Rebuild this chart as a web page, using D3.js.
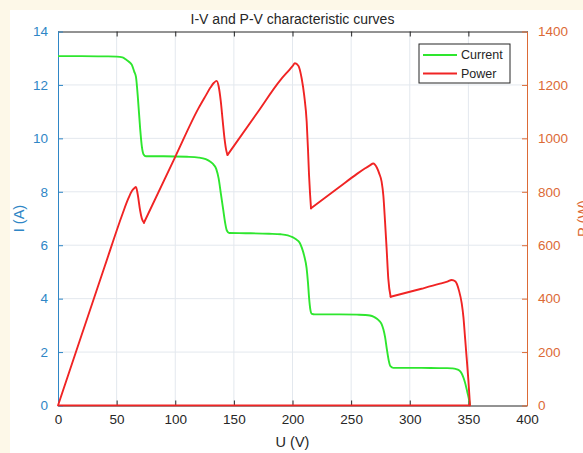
<!DOCTYPE html>
<html>
<head>
<meta charset="utf-8">
<script src="https://cdn.jsdelivr.net/npm/d3@7"></script>
<style>
    body { margin: 0; background: #fdf8e8; }
    svg text { font-family: "Liberation Sans", Arial, sans-serif; }
</style>
</head>
<body>
<script>
// values
var currentU = [0, 20, 40, 50, 55, 58, 61, 63, 65, 66.5, 68, 70, 71.5, 73, 75,
                90, 110, 120, 126, 130, 133, 135, 137, 139, 141, 142.5, 144, 146,
                160, 180, 190, 196, 200, 203, 206, 208, 210, 212, 213.2, 214.2, 215.2, 216.5, 219,
                240, 255, 262, 266, 269, 272, 274, 276, 277.5, 279, 280.5, 282, 283.5, 286,
                310, 325, 332, 336, 339, 342, 344.3, 346, 347.5, 349, 350.3, 351.4];
var currentI = [13.08, 13.08, 13.07, 13.06, 13.03, 12.95, 12.85, 12.75, 12.5, 12.3, 11.6, 10.4, 9.7, 9.4, 9.33,
                9.33, 9.31, 9.28, 9.22, 9.12, 9.0, 8.85, 8.5, 7.9, 7.3, 6.85, 6.55, 6.46,
                6.45, 6.43, 6.41, 6.37, 6.3, 6.22, 6.1, 5.9, 5.6, 5.15, 4.6, 4.0, 3.6, 3.43, 3.41,
                3.41, 3.40, 3.39, 3.37, 3.33, 3.25, 3.17, 3.05, 2.85, 2.55, 2.1, 1.7, 1.47, 1.41,
                1.41, 1.40, 1.40, 1.39, 1.37, 1.32, 1.2, 1.02, 0.8, 0.52, 0.28, 0];

var powerU = [0, 20, 40, 55, 60, 63, 65, 66.5, 68, 70, 71.5, 73.3,
              100, 120, 126, 130, 133, 135.3, 137, 138.8, 140.4, 142, 143.5, 144.6,
              170, 190, 196, 200, 202.1, 205, 207.8, 210, 212.1, 213.2, 214.1, 215, 215.8,
              240, 255, 262, 266, 268.9, 272, 274, 276, 277.5, 278.9, 280.3, 281.7, 283.7,
              310, 325, 332, 335.8, 339, 342, 344.3, 345.8, 347.1, 348.5, 350, 351.4];
var powerP = [0, 262, 523, 717, 775, 803, 813, 818, 790, 731, 700, 684,
              931, 1114, 1160, 1190, 1208, 1215, 1195, 1140, 1069, 1000, 955, 938,
              1096, 1220, 1250, 1270, 1281, 1272, 1225, 1160, 1062, 960, 863, 790, 738,
              818, 867, 888, 899, 906, 890, 868, 838, 785, 690, 585, 475, 407,
              437, 455, 464, 470, 464, 430, 383, 330, 258, 180, 95, 0];
// power trace also runs back along zero
var powerReturnU = [351.4, 0];
var powerReturnP = [0, 0];

var xTicks = [0, 50, 100, 150, 200, 250, 300, 350, 400];
var leftTicks = [0, 2, 4, 6, 8, 10, 12, 14];
var rightTicks = [0, 200, 400, 600, 800, 1000, 1200, 1400];

var width = 583,
    height = 453,
    plotLeft = 58,
    plotRight = 527,
    plotTop = 31.5,
    plotBottom = 405.5,
    blue = "#2f86c6",
    orange = "#dc6a36",
    dark = "#262626",
    green = "#2ee62e",
    red = "#f02424";

var x = d3.scaleLinear().domain([0, 400]).range([plotLeft, plotRight]);
var yI = d3.scaleLinear().domain([0, 14]).range([plotBottom, plotTop]);
var yP = d3.scaleLinear().domain([0, 1400]).range([plotBottom, plotTop]);

var svg = d3.select("body").append("svg")
            .attr("width", width)
            .attr("height", height)
            .style("display", "block");

svg.append("rect")
   .attr("x", 10)
   .attr("y", 10)
   .attr("width", width - 10)
   .attr("height", height - 10)
   .style("fill", "#ffffff");

// grid
svg.append("g").selectAll("line")
   .data(xTicks.slice(1, -1))
   .enter().append("line")
   .attr("x1", function(d) {return x(d); })
   .attr("x2", function(d) {return x(d); })
   .attr("y1", plotTop)
   .attr("y2", plotBottom)
   .style("stroke", "#e3e8ee")
   .style("stroke-width", 1);

svg.append("g").selectAll("line")
   .data(leftTicks.slice(1, -1))
   .enter().append("line")
   .attr("x1", plotLeft)
   .attr("x2", plotRight)
   .attr("y1", function(d) {return yI(d); })
   .attr("y2", function(d) {return yI(d); })
   .style("stroke", "#e3e8ee")
   .style("stroke-width", 1);

// curves
svg.append("clipPath").attr("id", "plotClip")
   .append("rect")
   .attr("x", plotLeft - 1).attr("y", plotTop - 1)
   .attr("width", plotRight - plotLeft + 2).attr("height", plotBottom - plotTop + 2);

var plot = svg.append("g").attr("clip-path", "url(#plotClip)");

var lineI = d3.line()
              .x(function(d) {return x(d[0]); })
              .y(function(d) {return yI(d[1]); })
              .curve(d3.curveMonotoneX);

var lineP = d3.line()
              .x(function(d) {return x(d[0]); })
              .y(function(d) {return yP(d[1]); })
              .curve(d3.curveMonotoneX);

plot.append("path")
    .attr("d", lineI(d3.zip(currentU, currentI)))
    .style("fill", "none")
    .style("stroke", green)
    .style("stroke-width", 1.9);

plot.append("path")
    .attr("d", lineP(d3.zip(powerReturnU, powerReturnP).reverse()))
    .style("fill", "none")
    .style("stroke", red)
    .style("stroke-width", 1.9);

// split the power trace at its sharp dips so the corners stay sharp
var powerPoints = d3.zip(powerU, powerP),
    powerPieces = [],
    piece = [];
powerPoints.forEach(function(p, i) {
    piece.push(p);
    if (i > 0 && i < powerP.length - 1 && powerP[i] < powerP[i - 1] && powerP[i] < powerP[i + 1]) {
        powerPieces.push(piece);
        piece = [p];
    }
});
powerPieces.push(piece);

plot.selectAll(".powerPiece")
    .data(powerPieces)
    .enter().append("path")
    .attr("class", "powerPiece")
    .attr("d", function(d) {return lineP(d); })
    .style("fill", "none")
    .style("stroke", red)
    .style("stroke-width", 1.9)
    .style("stroke-linejoin", "round")
    .style("stroke-linecap", "round");

// axes
var xBottom = svg.append("g")
                 .attr("transform", "translate(0," + plotBottom + ")")
                 .call(d3.axisBottom(x).tickValues(xTicks).tickSizeInner(-5).tickSizeOuter(0).tickPadding(9));
var xTop = svg.append("g")
              .attr("transform", "translate(0," + plotTop + ")")
              .call(d3.axisTop(x).tickValues(xTicks).tickSizeInner(-5).tickSizeOuter(0).tickFormat(""));
var yLeft = svg.append("g")
               .attr("transform", "translate(" + plotLeft + ",0)")
               .call(d3.axisLeft(yI).tickValues(leftTicks).tickSizeInner(-5).tickSizeOuter(0).tickPadding(10));
var yRight = svg.append("g")
                .attr("transform", "translate(" + plotRight + ",0)")
                .call(d3.axisRight(yP).tickValues(rightTicks).tickFormat(d3.format("d"))
                        .tickSizeInner(-5).tickSizeOuter(0).tickPadding(11));

[xBottom, xTop].forEach(function(g) {
    g.select(".domain").style("stroke", dark);
    g.selectAll(".tick line").style("stroke", dark);
});
xBottom.selectAll("text").style("fill", dark).style("font-size", "13.5px");

yLeft.select(".domain").style("stroke", blue);
yLeft.selectAll(".tick line").style("stroke", blue);
yLeft.selectAll("text").style("fill", blue).style("font-size", "13.5px");

yRight.select(".domain").style("stroke", orange);
yRight.selectAll(".tick line").style("stroke", orange);
yRight.selectAll("text").style("fill", orange).style("font-size", "13.5px");

// red trace sits over the bottom axis line
xBottom.select(".domain").raise();
plot.raise();

// labels
svg.append("text")
   .attr("x", (plotLeft + plotRight) / 2)
   .attr("y", 24)
   .attr("text-anchor", "middle")
   .style("font-size", "14px")
   .style("fill", dark)
   .text("I-V and P-V characteristic curves");

svg.append("text")
   .attr("x", (plotLeft + plotRight) / 2)
   .attr("y", 447)
   .attr("text-anchor", "middle")
   .style("font-size", "14.5px")
   .style("fill", dark)
   .text("U (V)");

svg.append("text")
   .attr("transform", "translate(24," + ((plotTop + plotBottom) / 2) + ") rotate(-90)")
   .attr("text-anchor", "middle")
   .style("font-size", "14.5px")
   .style("fill", blue)
   .text("I (A)");

svg.append("text")
   .attr("transform", "translate(588," + ((plotTop + plotBottom) / 2) + ") rotate(-90)")
   .attr("text-anchor", "middle")
   .style("font-size", "14.5px")
   .style("fill", orange)
   .text("P (W)");

// legend
var legendData = [{name: "Current", color: green}, {name: "Power", color: red}];
var legend = svg.append("g").attr("transform", "translate(419,44)");

legend.append("rect")
      .attr("width", 91)
      .attr("height", 39)
      .style("fill", "#ffffff")
      .style("stroke", dark)
      .style("stroke-width", 1);

var legendRows = legend.selectAll(".legendRow")
                       .data(legendData)
                       .enter().append("g")
                       .attr("class", "legendRow")
                       .attr("transform", function(d, i) {return "translate(0," + (11 + i * 18.5) + ")"; });

legendRows.append("line")
          .attr("x1", 4)
          .attr("x2", 38)
          .style("stroke", function(d) {return d.color; })
          .style("stroke-width", 1.9);

legendRows.append("text")
          .attr("x", 42)
          .attr("dy", "0.35em")
          .style("font-size", "12.5px")
          .style("fill", dark)
          .text(function(d) {return d.name; });
</script>
</body>
</html>
